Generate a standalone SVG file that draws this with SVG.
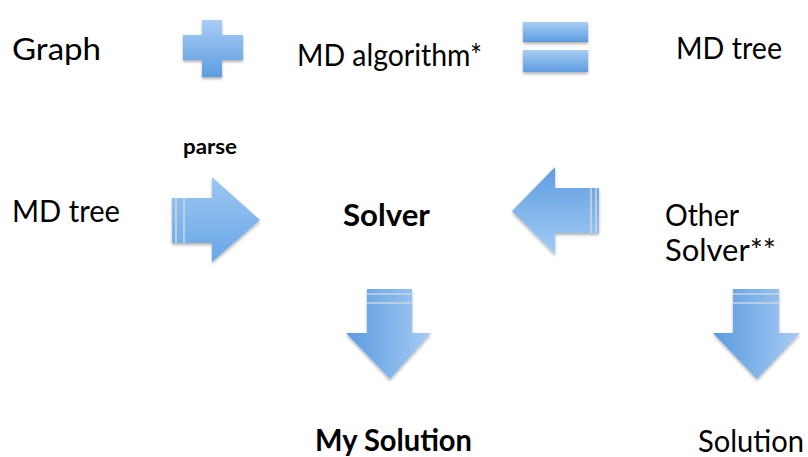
<svg xmlns="http://www.w3.org/2000/svg" width="808" height="457" viewBox="0 0 808 457">
<style>
text{font-family:Lato,"Open Sans","Liberation Sans",sans-serif;fill:#000;}
.t{font-size:30px;}
.b{font-size:30px;font-weight:bold;}
.p{font-size:21px;font-weight:bold;}
.stripe{stroke:#c9d6e3;stroke-width:1.6;fill:none;}
.sh{filter:url(#shadow);}
</style>
<defs>
<linearGradient id="gV" x1="0" y1="0" x2="0" y2="1">
<stop offset="0" stop-color="#a9cdf4"/><stop offset="1" stop-color="#5c9ce0"/>
</linearGradient>
<linearGradient id="gR" x1="0" y1="0" x2="0" y2="1">
<stop offset="0" stop-color="#9cc7f2"/><stop offset="1" stop-color="#6aa7e6"/>
</linearGradient>
<linearGradient id="gL" x1="0" y1="0" x2="0" y2="1">
<stop offset="0" stop-color="#5e9de1"/><stop offset="1" stop-color="#a3cbf3"/>
</linearGradient>
<linearGradient id="gD" x1="0" y1="0" x2="1" y2="0">
<stop offset="0" stop-color="#5b9be0"/><stop offset="1" stop-color="#a6ccf4"/>
</linearGradient>
<filter id="shadow" x="-20%" y="-20%" width="140%" height="150%">
<feDropShadow dx="0" dy="2" stdDeviation="1.5" flood-color="#000" flood-opacity="0.3"/>
</filter>
</defs>

<g id="graph"><text class="t" x="12" y="60" textLength="89" lengthAdjust="spacingAndGlyphs">Graph</text></g>
<g id="plus"><path class="sh" d="M202,20 H222 V35 H243 V60 H222 V77 H202 V60 H183 V35 H202 Z" fill="url(#gV)"/></g>
<g id="md-algorithm"><text class="t" x="297" y="66" textLength="185" lengthAdjust="spacingAndGlyphs">MD algorithm*</text></g>
<g id="equals">
<rect class="sh" x="523" y="22" width="65" height="20" fill="url(#gV)"/>
<rect class="sh" x="523" y="50" width="65" height="22" fill="url(#gV)"/>
</g>
<g id="md-tree-top"><text class="t" x="676" y="59" textLength="106" lengthAdjust="spacingAndGlyphs">MD tree</text></g>

<g id="md-tree-left"><text class="t" x="12" y="222" textLength="108" lengthAdjust="spacingAndGlyphs">MD tree</text></g>
<g id="solver"><text class="b" x="343" y="226" textLength="87" lengthAdjust="spacingAndGlyphs">Solver</text></g>
<g id="other-solver"><text class="t" x="665" y="226" textLength="74" lengthAdjust="spacingAndGlyphs">Other</text><text class="t" x="665" y="261" textLength="111" lengthAdjust="spacingAndGlyphs">Solver**</text></g>
<g id="my-solution"><text class="b" x="315" y="451" textLength="157" lengthAdjust="spacingAndGlyphs">My Solution</text></g>
<g id="solution"><text class="t" x="698" y="452" textLength="106" lengthAdjust="spacingAndGlyphs">Solution</text></g>

<g id="connectors">
<g id="arrow-parse">
<text class="p" x="183" y="154" textLength="54" lengthAdjust="spacingAndGlyphs">parse</text>
<path class="sh" d="M172,198 H212 V177 L260,220 L212,262 V243 H172 Z" fill="url(#gR)"/>
<line class="stripe" x1="176" y1="198" x2="176" y2="243"/>
<line class="stripe" x1="184" y1="198" x2="184" y2="243"/>
</g>
<g id="arrow-other">
<path class="sh" d="M599,188 H555 V167 L512,211 L555,254 V233 H599 Z" fill="url(#gL)"/>
<line class="stripe" x1="591" y1="188" x2="591" y2="233"/>
<line class="stripe" x1="596" y1="188" x2="596" y2="233"/>
</g>
<g id="arrow-down-1">
<path class="sh" d="M367,289 H412 V333 H431 L390,379 L346,333 H367 Z" fill="url(#gD)"/>
<line class="stripe" x1="367" y1="294" x2="412" y2="294" stroke="#a9b3bd"/>
<line class="stripe" x1="367" y1="303" x2="412" y2="303" stroke="#a9b3bd"/>
</g>
<g id="arrow-down-2">
<path class="sh" d="M733,289 H779 V333 H800 L757,379 L713,333 H733 Z" fill="url(#gD)"/>
<line class="stripe" x1="733" y1="294" x2="779" y2="294" stroke="#a9b3bd"/>
<line class="stripe" x1="733" y1="303" x2="779" y2="303" stroke="#a9b3bd"/>
</g>
</g>
</svg>
